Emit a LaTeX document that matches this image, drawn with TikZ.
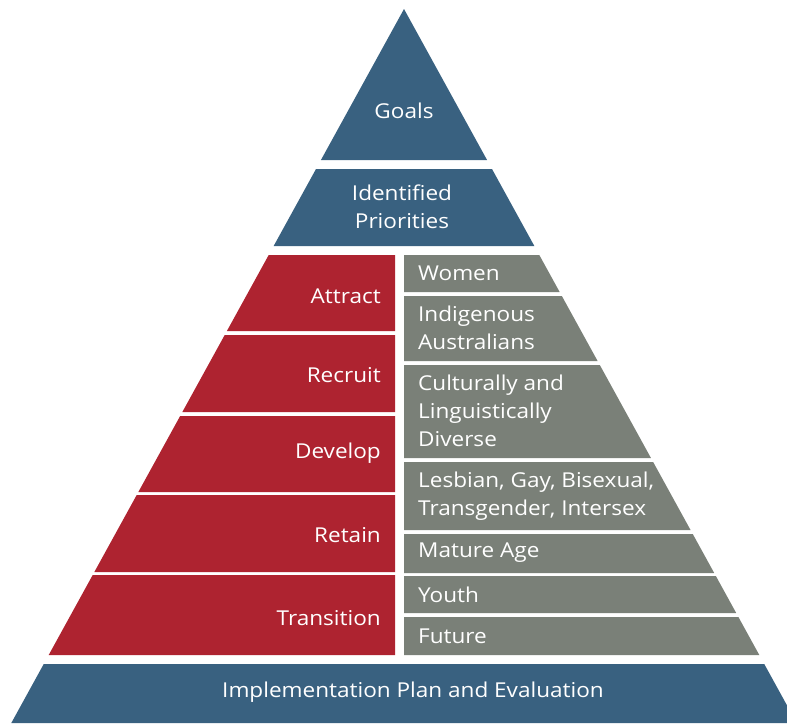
\documentclass[tikz,border=0pt]{standalone}
\usepackage{fontspec}
\setmainfont[FakeStretch=1.1]{Open Sans}
\definecolor{pblue}{RGB}{57,97,128}
\definecolor{pred}{RGB}{174,35,48}
\definecolor{pgray}{RGB}{122,128,120}
\tikzset{
  lbl/.style={text=white, font=\fontsize{20.5}{28}\selectfont, inner sep=0pt},
  lblc/.style={lbl, align=center},
  lblr/.style={lbl, anchor=east, align=right},
  lbll/.style={lbl, anchor=west, align=left},
}
\begin{document}
\begin{tikzpicture}[x=1pt,y=-1pt]
\useasboundingbox (0,0) rectangle (787,723);
\clip (0,0) rectangle (787,723);
% top
\fill[pblue] (404,9) -- (487.05,160) -- (320.95,160) -- cycle;
\fill[pblue] (316,169) -- (492,169) -- (534.35,246) -- (273.65,246) -- cycle;
% red column
\fill[pred] (268.7,255) -- (395,255) -- (395,331) -- (226.9,331) -- cycle;
\fill[pred] (224.7,335) -- (395,335) -- (395,412) -- (182.35,412) -- cycle;
\fill[pred] (180.15,416) -- (395,416) -- (395,492) -- (138.35,492) -- cycle;
\fill[pred] (136.7,495) -- (395,495) -- (395,572) -- (94.35,572) -- cycle;
\fill[pred] (92.7,575) -- (395,575) -- (395,655) -- (48.7,655) -- cycle;
% gray column
\fill[pgray] (404,255) -- (539.3,255) -- (559.65,292) -- (404,292) -- cycle;
\fill[pgray] (404,296) -- (561.85,296) -- (597.6,361) -- (404,361) -- cycle;
\fill[pgray] (404,365) -- (599.8,365) -- (650.95,458) -- (404,458) -- cycle;
\fill[pgray] (404,462) -- (653.15,462) -- (690.55,530) -- (404,530) -- cycle;
\fill[pgray] (404,534) -- (692.75,534) -- (714.2,573) -- (404,573) -- cycle;
\fill[pgray] (404,576) -- (715.85,576) -- (736.2,613) -- (404,613) -- cycle;
\fill[pgray] (404,617) -- (738.4,617) -- (759.3,655) -- (404,655) -- cycle;
% base
\fill[pblue] (43.75,664) -- (764.25,664) -- (796.7,723) -- (11.3,723) -- cycle;
% labels
\node[lblc] (goals) at (404,111) {Goals};
\node[lblc] (prio) at (402,207) {Identified\\Priorities};
\node[lblr] (attract) at (381,296) {Attract};
\node[lblr] (recruit) at (381,375) {Recruit};
\node[lblr] (develop) at (381,453) {Develop};
\node[lblr] (retain) at (381,535) {Retain};
\node[lblr] (transition) at (381,618) {Transition};
\node[lbll] (women) at (418,273) {Women};
\node[lbll] (indig) at (418,328) {Indigenous\\Australians};
\node[lbll] (cald) at (418,411) {Culturally and\\Linguistically\\Diverse};
\node[lbll] (lgbti) at (418,496) {Lesbian, Gay, Bisexual,\\Transgender, Intersex};
\node[lbll] (mature) at (418,553) {Mature Age};
\node[lbll] (youth) at (418,595) {Youth};
\node[lbll] (future) at (418,636) {Future};
\node[lblc] (impl) at (413,692) {Implementation Plan and Evaluation};
\end{tikzpicture}
\end{document}
